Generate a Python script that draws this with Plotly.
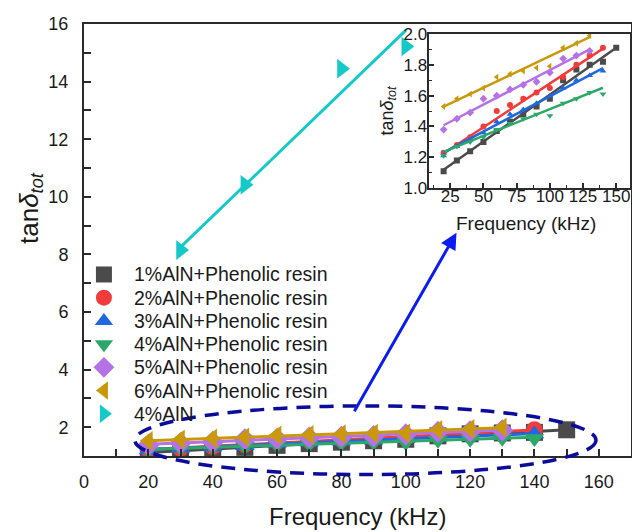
import plotly.graph_objects as go

# ---------------- data ----------------
freq_1 = [20, 30, 40, 50, 60, 70, 80, 90, 100, 110, 120, 130, 140, 150]
freq_2_4 = [20, 30, 40, 50, 60, 70, 80, 90, 100, 110, 120, 130, 140]
freq_5_6 = [20, 30, 40, 50, 60, 70, 80, 90, 100, 110, 120, 130]

tan_1 = [1.11, 1.18, 1.24, 1.30, 1.37, 1.43, 1.48, 1.53, 1.58, 1.70, 1.77, 1.80, 1.82, 1.91]
tan_2 = [1.23, 1.28, 1.33, 1.40, 1.50, 1.54, 1.58, 1.62, 1.65, 1.72, 1.80, 1.86, 1.91]
tan_3 = [1.21, 1.27, 1.31, 1.36, 1.43, 1.48, 1.51, 1.55, 1.60, 1.65, 1.70, 1.73, 1.76]
tan_4 = [1.21, 1.27, 1.30, 1.33, 1.38, 1.42, 1.45, 1.48, 1.47, 1.55, 1.58, 1.62, 1.61]
tan_5 = [1.38, 1.45, 1.49, 1.58, 1.60, 1.64, 1.67, 1.69, 1.75, 1.84, 1.86, 1.89]
tan_6 = [1.53, 1.58, 1.61, 1.65, 1.72, 1.74, 1.76, 1.78, 1.79, 1.91, 1.94, 1.99]

freq_aln = [30, 50, 80, 100]
tan_aln = [8.15, 10.42, 14.45, 15.22]

# linear-fit line end points
fit_x = [[20, 150], [20, 140], [20, 140], [20, 140], [20, 130], [20, 130]]
fit_y = [[1.12, 1.91], [1.225, 1.905], [1.23, 1.778], [1.235, 1.651], [1.408, 1.90], [1.528, 1.979]]
fit_x_aln = [30, 100]
fit_y_aln = [8.25, 15.78]

names = ["1%AlN+Phenolic resin", "2%AlN+Phenolic resin", "3%AlN+Phenolic resin",
         "4%AlN+Phenolic resin", "5%AlN+Phenolic resin", "6%AlN+Phenolic resin"]
name_aln = "4%AlN"

x_ticks_main = [0, 20, 40, 60, 80, 100, 120, 140, 160]
y_ticks_main = [2, 4, 6, 8, 10, 12, 14, 16]
x_ticks_inset = [25, 50, 75, 100, 125, 150]
y_ticks_inset = [1.0, 1.2, 1.4, 1.6, 1.8, 2.0]

# ---------------- style ----------------
colors = ["#4b4b4b", "#f23b3b", "#1f68e0", "#2ea86a", "#b572e6", "#c9990a"]
color_aln = "#15c9c9"
symbols = ["square", "circle", "triangle-up", "triangle-down", "diamond", "triangle-left"]
FONT = "Arial, 'Liberation Sans', sans-serif"

# the page has an 8px body margin, so the figure is 8px smaller than the window
W, H = 632, 524
ML, MR, MT, MB = 76, 7, 7, 76
PW, PH = W - ML - MR, H - MT - MB   # plot area 549 x 441

xs = [freq_1, freq_2_4, freq_2_4, freq_2_4, freq_5_6, freq_5_6]
ys = [tan_1, tan_2, tan_3, tan_4, tan_5, tan_6]

fig = go.Figure()

# main plot
for i in range(6):
    fig.add_trace(go.Scatter(
        x=xs[i], y=ys[i], mode="markers", name=names[i], showlegend=False,
        marker=dict(symbol=symbols[i], size=17, color=colors[i], line=dict(width=0)),
        xaxis="x", yaxis="y"))
    fig.add_trace(go.Scatter(
        x=fit_x[i], y=fit_y[i], mode="lines", showlegend=False,
        line=dict(color=colors[i], width=3), xaxis="x", yaxis="y"))

fig.add_trace(go.Scatter(
    x=freq_aln, y=tan_aln, mode="markers", name=name_aln, showlegend=False,
    marker=dict(symbol="triangle-right", size=17, color=color_aln, line=dict(width=0)),
    xaxis="x", yaxis="y"))
fig.add_trace(go.Scatter(
    x=fit_x_aln, y=fit_y_aln, mode="lines", showlegend=False,
    line=dict(color=color_aln, width=3), xaxis="x", yaxis="y"))

# inset
for i in range(6):
    fig.add_trace(go.Scatter(
        x=xs[i], y=ys[i], mode="markers", showlegend=False,
        marker=dict(symbol=symbols[i], size=6, color=colors[i], line=dict(width=0)),
        xaxis="x2", yaxis="y2"))
    fig.add_trace(go.Scatter(
        x=fit_x[i], y=fit_y[i], mode="lines", showlegend=False,
        line=dict(color=colors[i], width=2.5), xaxis="x2", yaxis="y2"))

# legend (drawn on an invisible overlay axis measured in plot-area pixels)
leg_names = names + [name_aln]
leg_symbols = symbols + ["triangle-right"]
leg_colors = colors + [color_aln]
leg_x = 20            # marker centre, px from plot-area left
leg_text_x = 48       # text start
leg_y0 = 185.3        # first row, px above plot-area bottom
leg_dy = 23.7
leg_y = [leg_y0 - k * leg_dy for k in range(len(leg_names))]
fig.add_trace(go.Scatter(
    x=[leg_x] * len(leg_names), y=leg_y, mode="markers", showlegend=False,
    marker=dict(symbol=leg_symbols, size=16, color=leg_colors, line=dict(width=0)),
    xaxis="x3", yaxis="y3", cliponaxis=False, hoverinfo="skip"))
for k, nm in enumerate(leg_names):
    fig.add_annotation(text=nm, xref="x3", yref="y3", x=leg_text_x, y=leg_y[k],
                       xanchor="left", yanchor="middle", showarrow=False,
                       font=dict(size=19.5, family=FONT, color="#1a1a1a"))

axis_common = dict(showline=True, linewidth=2, linecolor="#2b2b2b", mirror=True,
                   ticks="inside", tickwidth=1.5, tickcolor="#2b2b2b",
                   showgrid=False, zeroline=False)

fig.update_layout(
    width=W, height=H,
    margin=dict(l=ML, r=MR, t=MT, b=MB),
    paper_bgcolor="white", plot_bgcolor="white",
    font=dict(family=FONT, color="#1a1a1a"),
    showlegend=False,
    xaxis=dict(domain=[0, 1], range=[0, 170], tickvals=x_ticks_main,
               ticklen=7, ticklabelstandoff=8,
               minor=dict(dtick=10, tick0=0, ticks="inside", ticklen=7,
                          tickwidth=1.5, tickcolor="#2b2b2b"),
               tickfont=dict(size=18), anchor="y", **axis_common),
    yaxis=dict(domain=[0, 1], range=[1.0, 16], tickvals=y_ticks_main,
               ticklen=7, ticklabelstandoff=10,
               minor=dict(dtick=1, tick0=0, ticks="inside", ticklen=7,
                          tickwidth=1.5, tickcolor="#2b2b2b"),
               tickfont=dict(size=18), anchor="x", **axis_common),
    xaxis2=dict(domain=[0.630, 0.998], range=[8.7, 160.3], tickvals=x_ticks_inset,
                ticklen=5, ticklabelstandoff=-9,
                minor=dict(dtick=12.5, tick0=0, ticks="inside", ticklen=3,
                           tickwidth=1.2, tickcolor="#2b2b2b"),
                tickfont=dict(size=17), anchor="y2", **axis_common),
    yaxis2=dict(domain=[0.620, 0.977], range=[1.0, 2.0], tickvals=y_ticks_inset,
                tickformat=".1f", ticklen=5, ticklabelstandoff=-4,
                minor=dict(dtick=0.1, tick0=0, ticks="inside", ticklen=3,
                           tickwidth=1.2, tickcolor="#2b2b2b"),
                tickfont=dict(size=17), anchor="x2", **axis_common),
    xaxis3=dict(domain=[0, 1], range=[0, PW], visible=False, fixedrange=True,
                anchor="y3", overlaying="x"),
    yaxis3=dict(domain=[0, 1], range=[0, PH], visible=False, fixedrange=True,
                anchor="x3", overlaying="y"),
)

# titles as annotations
fig.add_annotation(text="Frequency (kHz)", xref="paper", yref="paper",
                   x=0.5, y=-0.14, xanchor="center", yanchor="middle",
                   showarrow=False, font=dict(size=24, family=FONT))
fig.add_annotation(text="tan<i>δ</i><sub><i>tot</i></sub>", xref="paper", yref="paper",
                   x=-0.098, y=0.575, xanchor="center", yanchor="middle", textangle=-90,
                   showarrow=False, font=dict(size=26, family=FONT))
fig.add_annotation(text="Frequency (kHz)", xref="paper", yref="paper",
                   x=0.808, y=0.538, xanchor="center", yanchor="middle",
                   showarrow=False, font=dict(size=19, family=FONT))
fig.add_annotation(text="tan<i>δ</i><sub><i>tot</i></sub>", xref="paper", yref="paper",
                   x=0.556, y=0.80, xanchor="center", yanchor="middle", textangle=-90,
                   showarrow=False, font=dict(size=18, family=FONT))

# arrow from the ellipse to the inset
fig.add_annotation(text="", xref="paper", yref="paper", x=0.681, y=0.517,
                   ax=-103, ay=180, axref="pixel", ayref="pixel",
                   showarrow=True, arrowhead=2, arrowsize=1.1, arrowwidth=3,
                   arrowcolor="#0b1bf2")

# dashed ellipse highlighting the low-value region
fig.add_shape(type="circle", xref="paper", yref="paper",
              x0=0.093, x1=0.936, y0=-0.043, y1=0.116,
              line=dict(color="#0c0c9c", width=3.5, dash="14px,9px"))

fig.write_html("out.html")
